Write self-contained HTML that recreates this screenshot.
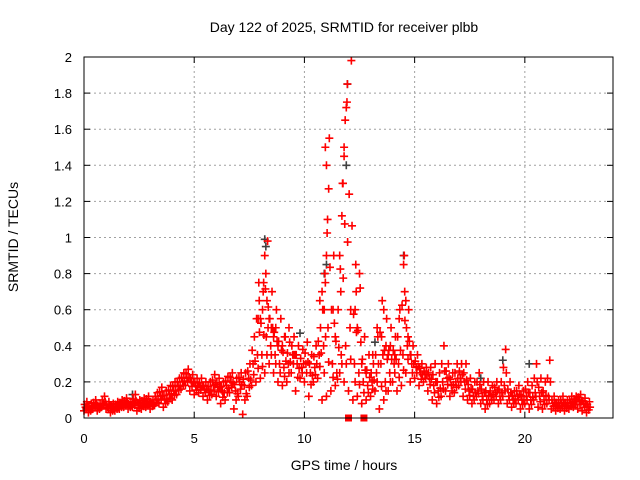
<!DOCTYPE html>
<html><head><meta charset="utf-8"><style>
html,body{margin:0;padding:0;background:#fff;}
svg{display:block;font-family:"Liberation Sans",sans-serif;}
</style></head><body>
<svg id="chart" width="640" height="480" viewBox="0 0 640 480" xmlns="http://www.w3.org/2000/svg">
<rect width="640" height="480" fill="#fff"/>
<text x="344" y="32" font-size="14" text-anchor="middle">Day 122 of 2025, SRMTID for receiver plbb</text>
<text transform="translate(18,237) rotate(-90)" font-size="14" text-anchor="middle">SRMTID / TECUs</text>
<text x="344" y="470" font-size="14" text-anchor="middle">GPS time / hours</text>
<g id="grid"></g>
<g id="ticks"></g>
<g id="marks"></g>
<rect x="84" y="57" width="529" height="361" fill="none" stroke="#000" stroke-width="1"/>
</svg>
<script>
const xTicks=[0,5,10,15,20];
const yTicks=[0,0.2,0.4,0.6,0.8,1,1.2,1.4,1.6,1.8,2];
const yTickLabels=["0","0.2","0.4","0.6","0.8","1","1.2","1.4","1.6","1.8","2"];
const times=[0,0.2,0.4,0.6,0.8,1.0,1.2,1.4,1.6,1.8,2.0,2.2,2.4,2.6,2.8,3.0,3.2,3.4,3.6,3.8,4.0,4.2,4.4,4.6,4.8,5.0,5.2,5.4,5.6,5.8,6.0,6.2,6.4,6.6,6.8,7.0,7.2,7.4,7.6,7.8,8.0,8.2,8.4,8.6,8.8,9.0,9.2,9.4,9.6,9.8,10.0,10.2,10.4,10.6,10.8,11.0,11.2,11.4,11.6,11.8,12.0,12.2,12.4,12.6,12.8,13.0,13.2,13.4,13.6,13.8,14.0,14.2,14.4,14.6,14.8,15.0,15.2,15.4,15.6,15.8,16.0,16.2,16.4,16.6,16.8,17.0,17.2,17.4,17.6,17.8,18.0,18.2,18.4,18.6,18.8,19.0,19.2,19.4,19.6,19.8,20.0,20.2,20.4,20.6,20.8,21.0,21.2,21.4,21.6,21.8,22.0,22.2,22.4,22.6,22.8];
const redLow=[0.04,0.03,0.05,0.04,0.06,0.05,0.03,0.04,0.05,0.06,0.05,0.06,0.04,0.05,0.06,0.05,0.07,0.08,0.06,0.09,0.1,0.13,0.16,0.18,0.15,0.13,0.14,0.12,0.1,0.13,0.12,0.08,0.1,0.14,0.05,0.12,0.02,0.12,0.18,0.2,0.22,0.25,0.3,0.25,0.2,0.18,0.2,0.25,0.15,0.22,0.2,0.12,0.2,0.22,0.1,0.12,0.15,0.18,0.25,0.2,0.15,0.1,0.12,0.08,0.1,0.12,0.15,0.05,0.1,0.15,0.2,0.15,0.18,0.25,0.2,0.22,0.18,0.2,0.15,0.1,0.08,0.12,0.15,0.12,0.14,0.18,0.12,0.1,0.08,0.12,0.08,0.05,0.08,0.1,0.08,0.12,0.08,0.06,0.08,0.05,0.08,0.05,0.1,0.06,0.05,0.08,0.05,0.04,0.05,0.04,0.05,0.06,0.05,0.04,0.03];
const redMid=[0.06,0.05,0.07,0.06,0.08,0.06,0.05,0.06,0.07,0.08,0.07,0.08,0.07,0.08,0.09,0.08,0.1,0.12,0.1,0.13,0.15,0.18,0.2,0.22,0.2,0.18,0.17,0.16,0.15,0.18,0.17,0.15,0.18,0.2,0.15,0.2,0.18,0.22,0.3,0.35,0.35,0.45,0.4,0.35,0.3,0.28,0.3,0.35,0.3,0.28,0.3,0.25,0.28,0.35,0.4,0.5,0.3,0.25,0.35,0.4,0.5,0.3,0.25,0.2,0.18,0.2,0.25,0.3,0.2,0.25,0.3,0.3,0.35,0.4,0.3,0.28,0.25,0.24,0.22,0.18,0.15,0.2,0.22,0.18,0.2,0.22,0.2,0.15,0.12,0.15,0.12,0.1,0.12,0.14,0.12,0.18,0.12,0.1,0.12,0.1,0.12,0.1,0.14,0.12,0.1,0.12,0.08,0.07,0.08,0.07,0.08,0.09,0.1,0.08,0.06];
const redHigh=[0.09,0.08,0.1,0.08,0.12,0.09,0.08,0.09,0.1,0.11,0.09,0.13,0.1,0.11,0.12,0.1,0.14,0.17,0.15,0.18,0.2,0.22,0.25,0.27,0.24,0.22,0.22,0.2,0.2,0.24,0.22,0.2,0.23,0.25,0.22,0.25,0.25,0.3,0.45,0.75,0.7,0.98,0.7,0.6,0.55,0.45,0.42,0.45,0.4,0.38,0.42,0.35,0.4,0.5,0.8,1.55,0.9,0.6,1.3,1.75,1.98,0.85,0.72,0.45,0.35,0.3,0.45,0.65,0.55,0.5,0.45,0.6,0.9,0.6,0.4,0.35,0.3,0.28,0.28,0.3,0.25,0.4,0.3,0.25,0.3,0.3,0.3,0.22,0.2,0.25,0.2,0.2,0.18,0.2,0.2,0.38,0.2,0.15,0.18,0.15,0.2,0.18,0.3,0.22,0.2,0.32,0.12,0.1,0.12,0.1,0.12,0.12,0.13,0.11,0.09];
const spikeX=[8.1,8.15,8.2,8.25,8.3,8.0,8.35,10.9,10.95,11.0,11.05,11.1,11.0,10.95,11.7,11.75,11.8,11.85,11.9,11.95,11.6,11.65,11.8,12.3,12.35,12.4,12.5,13.6,13.7,14.5,14.55,14.6,7.9,7.95,9.0,9.5,12.1,8.4,8.5,8.6,8.7,8.8,9.1,9.3,9.6,10.7,10.8,11.3,11.4,12.6,12.8,13.1,13.3,13.5,13.8,13.9,14.1,14.3,14.7,14.8];
const spikeY=[0.6,0.75,0.9,0.8,0.65,0.55,0.5,0.6,0.75,0.9,1.1,1.27,1.4,1.5,1.12,1.3,1.5,1.65,1.72,1.85,0.9,0.7,1.45,0.6,0.7,0.5,0.8,0.6,0.4,0.85,0.7,0.65,0.55,0.65,0.4,0.35,0.6,0.55,0.5,0.45,0.5,0.4,0.45,0.5,0.35,0.65,0.7,0.6,0.45,0.3,0.25,0.35,0.5,0.45,0.35,0.4,0.35,0.55,0.45,0.35];
const grayX=[8.2,8.25,11.0,11.95,11.9,14.5,19.0,20.2,2.2,18.0,9.8,13.2,10.9];
const grayY=[0.99,0.95,0.85,1.85,1.4,0.9,0.32,0.3,0.13,0.22,0.47,0.42,0.8];
const flagX=[12.0,12.7];
const flagY=[0,0];

const NS="http://www.w3.org/2000/svg";
const X0=84,X1=613,Y0=418,Y1=57,XMAX=24,YMAX=2;
function sx(v){return X0+v/XMAX*(X1-X0);}
function sy(v){return Y0-v/YMAX*(Y0-Y1);}
function mk(tag,attrs,parent){const e=document.createElementNS(NS,tag);for(const k in attrs)e.setAttribute(k,attrs[k]);parent.appendChild(e);return e;}
const grid=document.getElementById('grid'),ticks=document.getElementById('ticks'),marks=document.getElementById('marks');
yTicks.forEach((v,i)=>{
  const y=sy(v);
  if(i>0&&i<yTicks.length-1){const g=mk('line',{x1:X0,x2:X1,y1:y,y2:y,stroke:'#a0a0a0','stroke-dasharray':'2,3'},grid);
  
  }
  mk('line',{x1:X0,x2:X0+6,y1:y,y2:y,stroke:'#000'},grid);
  mk('line',{x1:X1,x2:X1-6,y1:y,y2:y,stroke:'#000'},grid);
  const t=mk('text',{x:72,y:y+5,'font-size':13,'text-anchor':'end'},ticks);t.textContent=yTickLabels[i];
  
  
});
xTicks.forEach(v=>{
  const x=sx(v);
  if(v>0){const g=mk('line',{x1:x,x2:x,y1:Y0,y2:Y1,stroke:'#a0a0a0','stroke-dasharray':'2,3'},grid);
  
  }
  mk('line',{x1:x,x2:x,y1:Y0,y2:Y0-6,stroke:'#000'},grid);
  mk('line',{x1:x,x2:x,y1:Y1,y2:Y1+6,stroke:'#000'},grid);
  const t=mk('text',{x:x,y:443,'font-size':13,'text-anchor':'middle'},ticks);t.textContent=String(v);
  
  
});
function plus(x,y,color,name){
  const cx=sx(x),cy=sy(y);
  const p=mk('path',{d:`M${cx-4},${cy}h8M${cx},${cy-4}v8`,stroke:color,'stroke-width':1.6,fill:'none'},marks);
  
  
}
grayX.forEach((x,i)=>plus(x,grayY[i],'#404040','gray-point'));
times.forEach((t,i)=>{
  plus(t,redLow[i],'#ff0000','red-point');
  plus(t+0.07,redMid[i],'#ff0000','red-point');
  plus(t+0.13,redHigh[i],'#ff0000','red-point');
  plus(t+0.1,(redLow[i]+redMid[i])/2,'#ff0000','red-point');
  plus(t+0.03,(redMid[i]+redHigh[i])/2,'#ff0000','red-point');
  plus(t+0.16,(redLow[i]+redHigh[i])/2,'#ff0000','red-point');
});
spikeX.forEach((x,i)=>plus(x,spikeY[i],'#ff0000','red-point'));
flagX.forEach((x,i)=>{
  const r=mk('rect',{x:sx(x)-3.5,y:sy(flagY[i])-3.5,width:7,height:7,fill:'#ff0000'},marks);
  
  
});
</script>
</body></html>
